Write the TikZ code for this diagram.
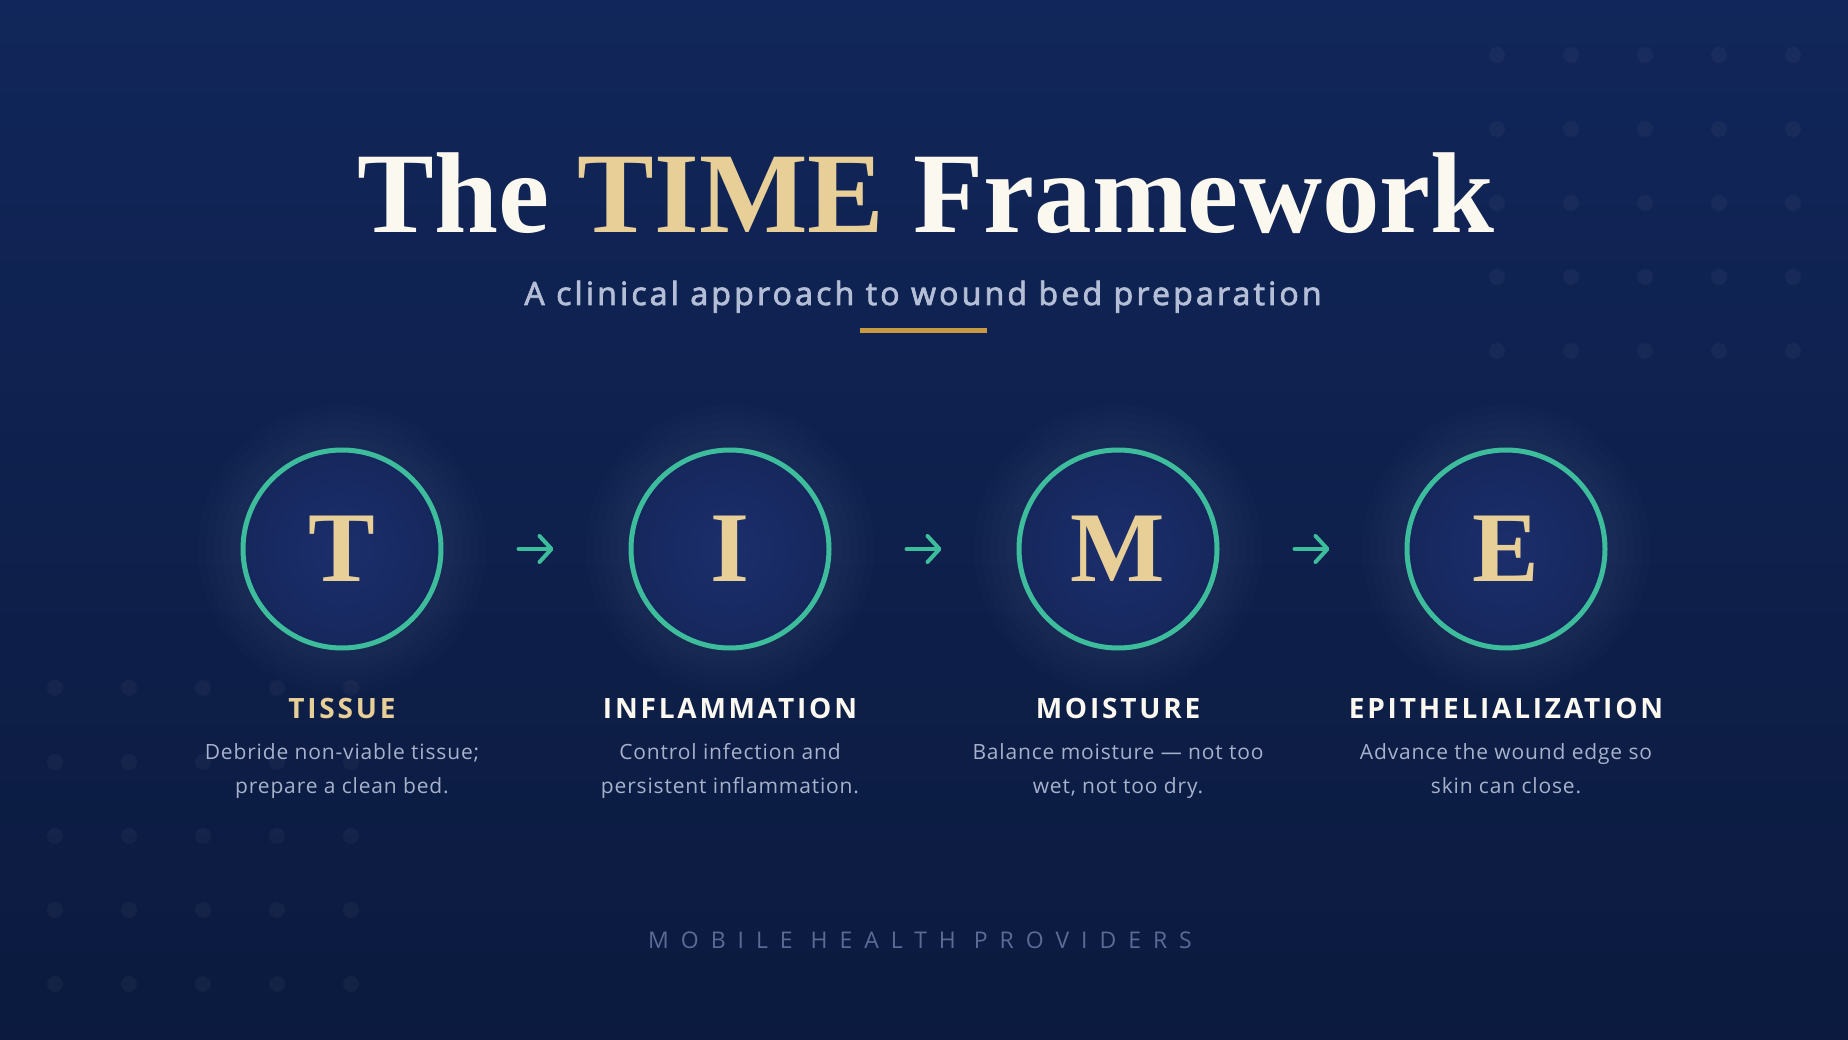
\documentclass[tikz,border=0pt]{standalone}
\usepackage{fontspec}
\setmainfont{Liberation Serif}
\usetikzlibrary{arrows.meta}
\newfontfamily\fTitle{Liberation Serif}
\newfontfamily\fLetter{Liberation Serif}
\newfontfamily\fSans[LetterSpace=4]{Open Sans}
\newfontfamily\fSub[LetterSpace=10,FakeBold=2.5]{Open Sans}
\newfontfamily\fHead[LetterSpace=10]{Open Sans}
\newfontfamily\fFoot[LetterSpace=52]{Open Sans}
\definecolor{bgtop}{HTML}{11265A}
\definecolor{bgbot}{HTML}{0B1A3E}
\definecolor{accent}{HTML}{3DBD9C}
\definecolor{gold}{HTML}{E8CF98}
\definecolor{cream}{HTML}{FBF8EF}
\definecolor{subc}{HTML}{B4BED6}
\definecolor{descc}{HTML}{A6B1CB}
\definecolor{footc}{HTML}{5A6B95}
\definecolor{rulec}{HTML}{C99A44}
\definecolor{cin}{HTML}{1C2F6C}
\definecolor{cout}{HTML}{101F4E}
\pgfdeclareradialshading{circgrad}{\pgfpoint{0bp}{0bp}}{color(0bp)=(cin); color(50bp)=(cout)}
\tikzset{
  letterbox/.style={circle, minimum size=198pt, inner sep=0pt, draw=accent, line width=5pt,
    shading=circgrad, text=gold, font=\fLetter\bfseries\fontsize{100}{100}\selectfont},
  flow/.style={accent, line width=4pt, line cap=round,
    -{Straight Barb[length=12pt,width=26pt,round]}, shorten <=75pt, shorten >=75pt},
  headtext/.style={anchor=base, text=cream, font=\fHead\bfseries\fontsize{28}{32}\selectfont},
  desctext/.style={anchor=base, text=descc, font=\fSans\fontsize{21}{26}\selectfont},
  dotc/.style={fill=white, fill opacity=0.035},
  glow/.style={fill=white, fill opacity=0.01},
  topglow/.style={fill=white, fill opacity=0.005}
}
\begin{document}
\begin{tikzpicture}[x=1pt,y=-1pt]
\useasboundingbox (0,0) rectangle (1848,1040);
\shade[top color=bgtop, bottom color=bgbot] (0,0) rectangle (1848,1040);
% top glow
\foreach \k in {1,...,10} {
  \fill[topglow] (924,200) ellipse ({250+55*\k} and {100+22*\k});
}
% dot grids
\foreach \x in {1497,1571,1645,1719,1793} {
  \foreach \y in {55,129,203,277,351} { \fill[dotc] (\x,\y) circle (8); }
}
\foreach \x in {55,129,203,277,351} {
  \foreach \y in {688,762,836,910,984} { \fill[dotc] (\x,\y) circle (8); }
}
% circle centres
\coordinate (c1) at (342,549);
\coordinate (c2) at (730,549);
\coordinate (c3) at (1118,549);
\coordinate (c4) at (1506,549);
\foreach \c in {c1,c2,c3,c4} {
  \foreach \r in {112,120,128,136,144} { \fill[glow] (\c) circle (\r); }
}
% title
\node[anchor=base, text=cream, font=\fTitle\bfseries\fontsize{115}{120}\selectfont] (title) at (926,233)
  {The \textcolor{gold}{TIME} Framework};
\node[anchor=base, text=subc, font=\fSub\fontsize{32}{38}\selectfont] (sub) at (923,305)
  {A clinical approach to wound bed preparation};
\draw[rulec, line width=5pt] (860,330.5) -- (987,330.5);
% letters
\node[letterbox] (t) at (c1) {T};
\node[letterbox] (i) at (c2) {I};
\node[letterbox] (m) at (c3) {M};
\node[letterbox] (e) at (c4) {E};
\draw[flow] (t) -- (i);
\draw[flow] (i) -- (m);
\draw[flow] (m) -- (e);
% headings
\node[headtext, text=gold] (th) at (342,718) {TISSUE};
\node[headtext] (ih) at (730,718) {INFLAMMATION};
\node[headtext] (mh) at (1118,718) {MOISTURE};
\node[headtext] (eh) at (1506,718) {EPITHELIALIZATION};
% descriptions
\node[desctext] (td1) at (342,759) {Debride non-viable tissue;};
\node[desctext] (td2) at (342,793) {prepare a clean bed.};
\node[desctext] (id1) at (730,759) {Control infection and};
\node[desctext] (id2) at (730,793) {persistent inflammation.};
\node[desctext] (md1) at (1118,759) {Balance moisture — not too};
\node[desctext] (md2) at (1118,793) {wet, not too dry.};
\node[desctext] (ed1) at (1506,759) {Advance the wound edge so};
\node[desctext] (ed2) at (1506,793) {skin can close.};
% footer
\node[anchor=base, text=footc, font=\fFoot\fontsize{23}{28}\selectfont] (foot) at (920,948)
  {MOBILE HEALTH PROVIDERS};
\end{tikzpicture}
\end{document}
